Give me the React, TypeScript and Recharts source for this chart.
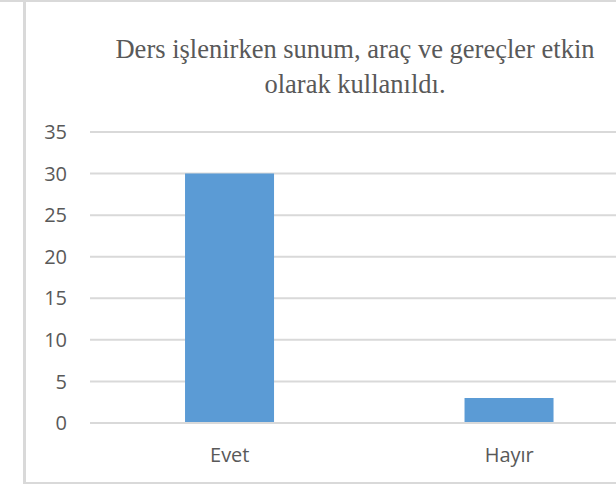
import { BarChart, Bar, XAxis, YAxis, CartesianGrid } from "recharts";

// Survey answers
const categories = ["Evet", "Hayır"];
const counts = [30, 3];
const yTicks = [0, 5, 10, 15, 20, 25, 30, 35];
const titleLines = ["Ders işlenirken sunum, araç ve gereçler etkin", "olarak kullanıldı."];

const data = categories.map((name, i) => ({ name, value: counts[i] }));

const GRID = "#d9d9d9";
const TEXT = "#595959";

export default function App() {
  return (
    <div
      style={{
        position: "absolute",
        left: 0,
        top: 0,
        width: 616,
        height: 486,
        overflow: "hidden",
        background: "#fff",
      }}
    >
      {/* top page rule */}
      <div style={{ position: "absolute", left: 0, top: 0, width: 616, height: 2, background: GRID }} />
      {/* chart frame (cropped on the right) */}
      <div
        style={{
          position: "absolute",
          left: 23,
          top: 2,
          width: 700,
          height: 480,
          borderLeft: `3px solid ${GRID}`,
          borderBottom: `2px solid ${GRID}`,
        }}
      />

      {/* Title */}
      {titleLines.map((line, i) => (
        <div
          key={i}
          style={{
            position: "absolute",
            left: 55,
            width: 600,
            top: 35 + i * 35,
            textAlign: "center",
            fontFamily: "'Liberation Serif', serif",
            fontSize: 26.5,
            lineHeight: "28px",
            color: TEXT,
            whiteSpace: "nowrap",
          }}
        >
          {line}
        </div>
      ))}

      <div style={{ position: "absolute", left: 0, top: 0 }}>
        <BarChart
          width={680}
          height={486}
          data={data}
          margin={{ top: 132, right: 31, left: 0, bottom: 0 }}
          barCategoryGap="34%"
        >
          <CartesianGrid vertical={false} stroke={GRID} strokeWidth={2} />
          <XAxis
            dataKey="name"
            height={63}
            axisLine={{ stroke: GRID, strokeWidth: 2 }}
            tickLine={false}
            tickSize={0}
            tickMargin={25}
            tick={{ fill: TEXT, fontSize: 20, fontFamily: "'Open Sans', sans-serif" }}
          />
          <YAxis
            width={90}
            domain={[0, 35]}
            ticks={yTicks}
            axisLine={false}
            tickLine={false}
            tickSize={0}
            tickMargin={23}
            tick={{ fill: TEXT, fontSize: 20, fontFamily: "'Open Sans', sans-serif" }}
          />
          <Bar dataKey="value" fill="#5b9bd5" isAnimationActive={false} />
        </BarChart>
      </div>
    </div>
  );
}
